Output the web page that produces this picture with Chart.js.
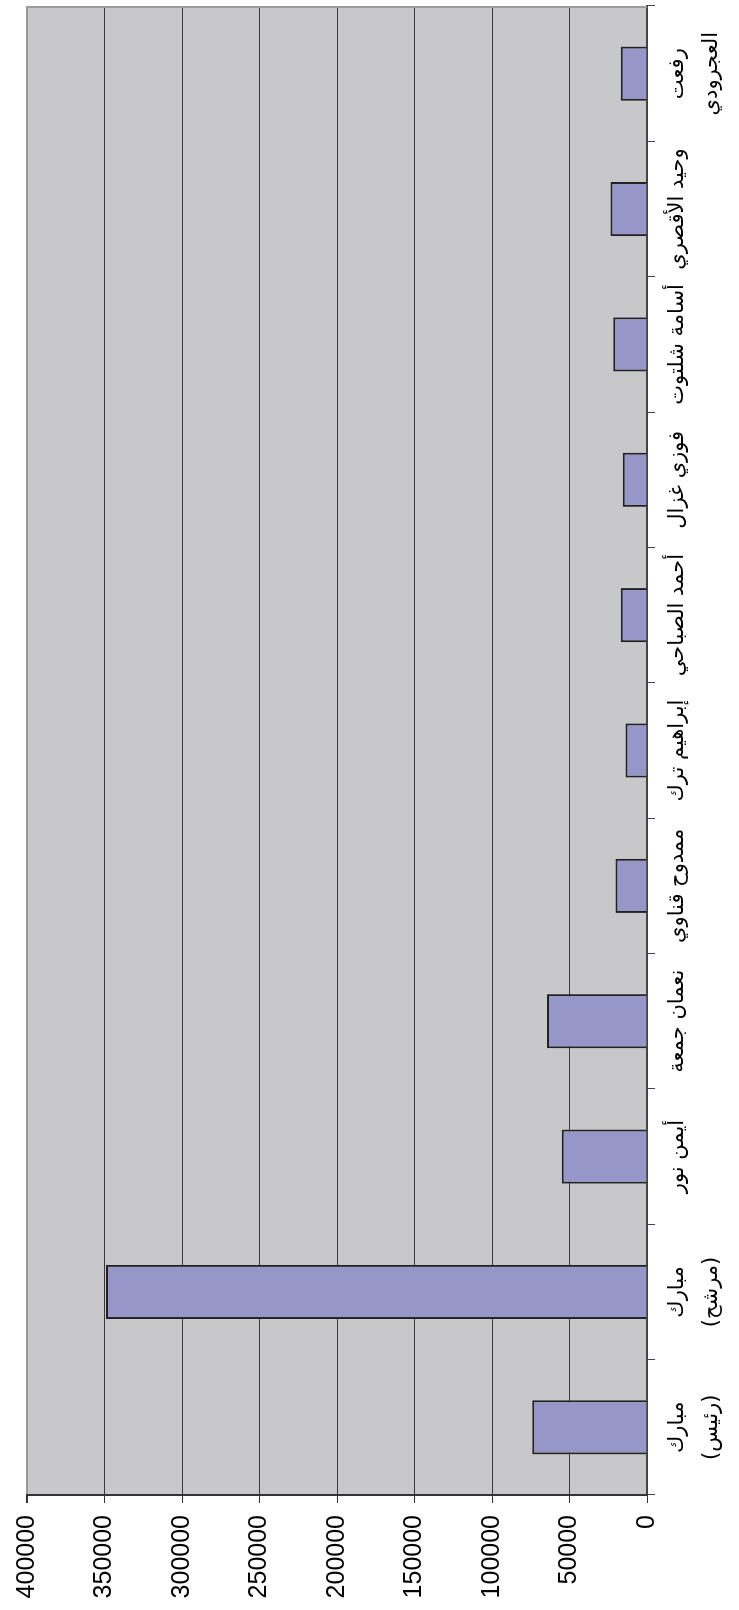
<!DOCTYPE html>
<html lang="ar">
<head>
<meta charset="utf-8">
<title>Votes chart</title>
<script src="https://cdn.jsdelivr.net/npm/chart.js@4.4.0/dist/chart.umd.min.js"></script>
<style>
    html, body { margin: 0; padding: 0; background: #fff; overflow: hidden; }
    #wrap { position: relative; width: 739px; height: 1610px; overflow: hidden; }
    /* chart is drawn as an ordinary column chart, then turned a quarter left */
    #chart-votes {
        position: absolute; left: 0; top: 0;
        transform-origin: top left;
        transform: translateY(1610px) rotate(-90deg);
    }
</style>
</head>
<body>
<div id="wrap">
    <canvas id="chart-votes" width="1610" height="739"></canvas>
</div>
<script>
// categories, in axis order (bottom of the page first)
const candidates = [
    ['مبارك', '(رئيس)'],
    ['مبارك', '(مرشح)'],
    'أيمن نور',
    'نعمان جمعة',
    'ممدوح قناوي',
    'إبراهيم ترك',
    'أحمد الصباحي',
    'فوزي غزال',
    'أسامة شلتوت',
    'وحيد الأقصري',
    ['رفعت', 'العجرودي']
];

// values
const votes = [74000, 349000, 55000, 64500, 20300, 13900, 17000, 15600, 21700, 23500, 17000];

// value axis ticks
const valueTicks = [0, 50000, 100000, 150000, 200000, 250000, 300000, 350000, 400000];

// gray plot background + outer frame line
const plotFrame = {
    id: 'plotFrame',
    beforeDraw(chart) {
        const { ctx, chartArea: a } = chart;
        ctx.save();
        ctx.fillStyle = '#c8c8ca';
        ctx.fillRect(a.left, a.top, a.right - a.left, a.bottom - a.top);
        ctx.restore();
    },
    afterDraw(chart) {
        const { ctx, chartArea: a } = chart;
        ctx.save();
        ctx.strokeStyle = '#9a9a9a';
        ctx.lineWidth = 2;
        ctx.beginPath();
        ctx.moveTo(a.right - 1, a.top);
        ctx.lineTo(a.right - 1, a.bottom);
        ctx.stroke();
        ctx.restore();
    }
};

const chartVotes = new Chart(document.getElementById('chart-votes'), {
    type: 'bar',
    data: {
        labels: candidates,
        datasets: [{
            data: votes,
            backgroundColor: '#9696c8',
            borderColor: '#222',
            borderWidth: 2,
            barPercentage: 0.4,
            categoryPercentage: 1.0
        }]
    },
    options: {
        responsive: false,
        maintainAspectRatio: false,
        animation: false,
        layout: { padding: { top: 21, right: 6, left: 0, bottom: 0 } },
        plugins: {
            legend: { display: false },
            tooltip: { enabled: false }
        },
        scales: {
            x: {
                grid: { drawOnChartArea: false, drawTicks: true, tickLength: 8, tickColor: '#444', offset: true },
                border: { display: true, color: '#444', width: 2 },
                ticks: {
                    autoSkip: false,
                    maxRotation: 0,
                    minRotation: 0,
                    padding: 6,
                    color: '#000',
                    font: { family: "'DejaVu Sans'", size: 21, lineHeight: '34px' }
                },
                afterFit: s => { s.height = 92; }
            },
            y: {
                min: 0,
                max: 400000,
                afterBuildTicks: s => { s.ticks = valueTicks.map(v => ({ value: v })); },
                grid: {
                    color: c => c.tick && c.tick.value === 400000 ? '#9a9a9a' : '#3a3a3a',
                    lineWidth: c => c.tick && c.tick.value === 400000 ? 2 : 1,
                    tickLength: 8,
                    tickColor: '#333'
                },
                border: { display: true, color: '#333', width: 2 },
                ticks: {
                    padding: 12,
                    color: '#000',
                    font: { family: "'Liberation Sans', Arial, sans-serif", size: 25 },
                    callback: v => String(v)
                },
                afterFit: s => { s.width = 115; }
            }
        }
    },
    plugins: [plotFrame]
});
</script>
</body>
</html>
